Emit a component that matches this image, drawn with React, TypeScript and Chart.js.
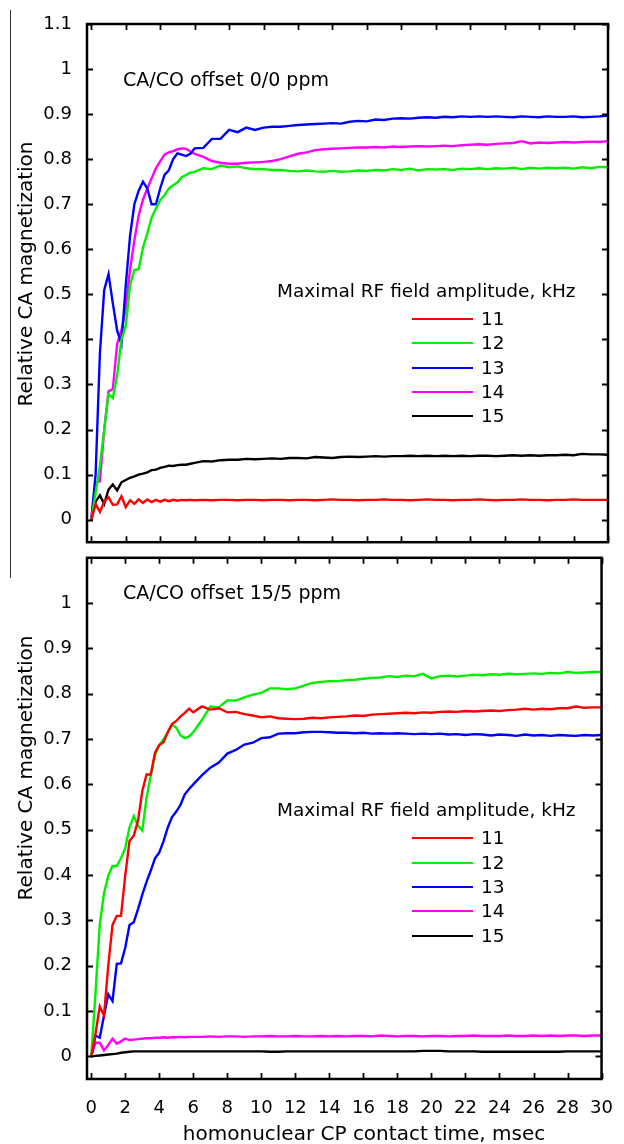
import React, { useEffect, useRef } from 'react';
import { Chart, registerables } from 'chart.js';

Chart.register(...registerables);

// ---------- data ----------
const contactTimeMs = [
  0, 0.25, 0.5, 0.75, 1, 1.25, 1.5, 1.75, 2, 2.25, 2.5, 2.75, 3, 3.25, 3.5, 3.75, 4, 4.25, 4.5, 4.75, 5, 5.25, 5.5, 5.75, 6,
  6.5, 7, 7.5, 8, 8.5, 9, 9.5, 10, 10.5, 11, 11.5, 12, 12.5, 13, 13.5, 14, 14.5, 15, 15.5, 16, 16.5, 17, 17.5, 18,
  18.5, 19, 19.5, 20, 20.5, 21, 21.5, 22, 22.5, 23, 23.5, 24, 24.5, 25, 25.5, 26, 26.5, 27, 27.5, 28, 28.5, 29, 29.5, 30,
];

const fieldAmplitudesKHz = ['11', '12', '13', '14', '15'];

// Panel 1: CA/CO offset 0/0 ppm
const offset00_11 = [
  0, 0.035, 0.017, 0.04, 0.05, 0.033, 0.034, 0.052, 0.028, 0.043, 0.035, 0.045, 0.037, 0.045, 0.039, 0.044, 0.04, 0.044, 0.041, 0.044, 0.042, 0.044, 0.043, 0.044, 0.043,
  0.044, 0.043, 0.044, 0.044, 0.043, 0.044, 0.044, 0.043, 0.044, 0.044, 0.043, 0.044, 0.044, 0.043, 0.044, 0.045, 0.044, 0.044, 0.043, 0.044, 0.044, 0.045, 0.044, 0.044,
  0.043, 0.044, 0.045, 0.044, 0.044, 0.043, 0.044, 0.044, 0.045, 0.044, 0.043, 0.044, 0.044, 0.045, 0.044, 0.044, 0.043, 0.044, 0.044, 0.045, 0.044, 0.044, 0.044, 0.044,
];
const offset00_12 = [
  0, 0.06, 0.12, 0.2, 0.278, 0.27, 0.32, 0.4, 0.43, 0.52, 0.554, 0.556, 0.604, 0.635, 0.67, 0.69, 0.709, 0.72, 0.735, 0.742, 0.748, 0.76, 0.765, 0.77, 0.772,
  0.78, 0.778, 0.786, 0.782, 0.784, 0.78, 0.778, 0.778, 0.776, 0.776, 0.774, 0.773, 0.775, 0.773, 0.772, 0.774, 0.772, 0.773, 0.775, 0.774, 0.776, 0.775, 0.778, 0.776,
  0.779, 0.775, 0.778, 0.777, 0.778, 0.776, 0.779, 0.778, 0.78, 0.778, 0.78, 0.779, 0.781, 0.778, 0.781, 0.779, 0.781, 0.78, 0.781, 0.779, 0.782, 0.78, 0.783, 0.782,
];
const offset00_13 = [
  0, 0.1, 0.37, 0.51, 0.545, 0.48, 0.42, 0.39, 0.52, 0.63, 0.7, 0.73, 0.75, 0.735, 0.7, 0.7, 0.735, 0.765, 0.775, 0.8, 0.813, 0.81, 0.807, 0.812, 0.824,
  0.825, 0.845, 0.845, 0.865, 0.86, 0.87, 0.865, 0.87, 0.872, 0.872, 0.874, 0.876, 0.877, 0.878, 0.879, 0.88, 0.879, 0.883, 0.885, 0.884, 0.888, 0.887, 0.89, 0.891,
  0.89, 0.892, 0.893, 0.892, 0.894, 0.893, 0.895, 0.894, 0.895, 0.894, 0.895, 0.894, 0.893, 0.895, 0.894, 0.893, 0.895, 0.894, 0.894, 0.895, 0.893, 0.894, 0.895, 0.897,
];
const offset00_14 = [
  0, 0.083, 0.085, 0.2, 0.285, 0.29, 0.39, 0.42, 0.47, 0.555, 0.62, 0.675, 0.71, 0.735, 0.757, 0.78, 0.795, 0.81, 0.815, 0.818, 0.822, 0.824, 0.823, 0.817, 0.812,
  0.805, 0.796, 0.792, 0.79, 0.79, 0.792, 0.793, 0.794, 0.796, 0.8, 0.806, 0.812, 0.815, 0.82, 0.822, 0.823, 0.824, 0.825, 0.826, 0.826, 0.827, 0.826, 0.828, 0.827,
  0.828, 0.829, 0.828, 0.829, 0.83, 0.829, 0.831, 0.832, 0.833, 0.832, 0.834, 0.835, 0.836, 0.84, 0.835, 0.837, 0.836, 0.837, 0.838, 0.837, 0.838, 0.839, 0.838, 0.84,
];
const offset00_15 = [
  0, 0.04, 0.054, 0.035, 0.067, 0.078, 0.065, 0.083, 0.088, 0.093, 0.096, 0.1, 0.102, 0.105, 0.11, 0.111, 0.115, 0.117, 0.12, 0.119, 0.121, 0.122, 0.122, 0.124, 0.126,
  0.13, 0.129, 0.132, 0.133, 0.133, 0.135, 0.134, 0.135, 0.136, 0.135, 0.137, 0.137, 0.136, 0.139, 0.138, 0.137, 0.139, 0.14, 0.139, 0.14, 0.141, 0.14, 0.141, 0.141,
  0.142, 0.141, 0.142, 0.141, 0.142, 0.141, 0.142, 0.141, 0.142, 0.142, 0.141, 0.142, 0.143, 0.142, 0.143, 0.142, 0.143, 0.143, 0.144, 0.143, 0.146, 0.145, 0.145, 0.144,
];

// Panel 2: CA/CO offset 15/5 ppm
const offset155_11 = [
  0, 0.05, 0.11, 0.09, 0.2, 0.29, 0.31, 0.31, 0.4, 0.475, 0.487, 0.52, 0.585, 0.622, 0.622, 0.67, 0.687, 0.693, 0.715, 0.733, 0.74, 0.75, 0.758, 0.767, 0.759,
  0.772, 0.765, 0.768, 0.759, 0.76, 0.755, 0.752, 0.748, 0.75, 0.746, 0.745, 0.744, 0.745, 0.747, 0.746, 0.748, 0.749, 0.75, 0.752, 0.751, 0.754, 0.755, 0.756, 0.757,
  0.758, 0.757, 0.759, 0.758, 0.76, 0.761, 0.76, 0.762, 0.761, 0.762, 0.763, 0.762, 0.764, 0.765, 0.767, 0.765, 0.767, 0.766, 0.768, 0.768, 0.772, 0.769, 0.77, 0.77,
];
const offset155_12 = [
  0, 0.14, 0.29, 0.36, 0.398, 0.42, 0.42, 0.437, 0.46, 0.505, 0.53, 0.509, 0.498, 0.57, 0.62, 0.665, 0.687, 0.7, 0.715, 0.732, 0.725, 0.708, 0.702, 0.706, 0.715,
  0.742, 0.772, 0.77, 0.785, 0.785, 0.792, 0.798, 0.802, 0.812, 0.812, 0.81, 0.812, 0.818, 0.824, 0.826, 0.828, 0.828, 0.83, 0.831, 0.833, 0.835, 0.836, 0.839, 0.837,
  0.84, 0.839, 0.844, 0.834, 0.839, 0.84, 0.838, 0.84, 0.842, 0.841, 0.843, 0.842, 0.844, 0.843, 0.844, 0.845, 0.844, 0.846, 0.845, 0.848, 0.846, 0.847, 0.848, 0.848,
];
const offset155_13 = [
  0, 0.046, 0.041, 0.09, 0.137, 0.122, 0.204, 0.205, 0.24, 0.29, 0.296, 0.325, 0.357, 0.385, 0.41, 0.437, 0.45, 0.475, 0.505, 0.528, 0.54, 0.555, 0.578, 0.59, 0.6,
  0.62, 0.637, 0.648, 0.668, 0.676, 0.688, 0.692, 0.702, 0.704, 0.712, 0.713, 0.713, 0.715, 0.716, 0.716, 0.715, 0.714, 0.714, 0.713, 0.714, 0.712, 0.713, 0.712, 0.713,
  0.712, 0.711, 0.712, 0.711, 0.712, 0.71, 0.711, 0.709, 0.711, 0.71, 0.708, 0.71, 0.709, 0.707, 0.71, 0.708, 0.709, 0.707, 0.709, 0.708, 0.707, 0.709, 0.708, 0.709,
];
const offset155_14 = [
  0, 0.03, 0.03, 0.013, 0.025, 0.039, 0.028, 0.033, 0.039, 0.036, 0.037, 0.038, 0.039, 0.04, 0.04, 0.041, 0.041, 0.042, 0.041, 0.042, 0.042, 0.043, 0.042, 0.043, 0.043,
  0.043, 0.044, 0.043, 0.044, 0.044, 0.043, 0.044, 0.044, 0.045, 0.044, 0.044, 0.045, 0.044, 0.044, 0.045, 0.044, 0.045, 0.044, 0.045, 0.045, 0.044, 0.046, 0.045, 0.044,
  0.045, 0.045, 0.044, 0.045, 0.045, 0.044, 0.045, 0.045, 0.046, 0.045, 0.045, 0.045, 0.046, 0.045, 0.045, 0.046, 0.045, 0.046, 0.045, 0.046, 0.046, 0.045, 0.046, 0.046,
];
const offset155_15 = [
  0, 0.001, 0.002, 0.003, 0.004, 0.005, 0.006, 0.008, 0.009, 0.01, 0.011, 0.011, 0.011, 0.011, 0.011, 0.011, 0.011, 0.011, 0.011, 0.011, 0.011, 0.011, 0.011, 0.011, 0.011,
  0.011, 0.011, 0.011, 0.011, 0.011, 0.011, 0.011, 0.011, 0.01, 0.01, 0.011, 0.011, 0.011, 0.011, 0.011, 0.011, 0.011, 0.011, 0.011, 0.011, 0.011, 0.011, 0.011, 0.011,
  0.011, 0.011, 0.012, 0.012, 0.012, 0.011, 0.011, 0.011, 0.011, 0.01, 0.01, 0.01, 0.01, 0.01, 0.01, 0.01, 0.01, 0.01, 0.01, 0.011, 0.011, 0.011, 0.011, 0.011,
];

const yTicksUpper = [0, 0.1, 0.2, 0.3, 0.4, 0.5, 0.6, 0.7, 0.8, 0.9, 1, 1.1];
const yTicksLower = [0, 0.1, 0.2, 0.3, 0.4, 0.5, 0.6, 0.7, 0.8, 0.9, 1];
const xTicks = [0, 2, 4, 6, 8, 10, 12, 14, 16, 18, 20, 22, 24, 26, 28, 30];

const panelNotes = ['CA/CO offset 0/0 ppm', 'CA/CO offset 15/5 ppm'];
const legendTitle = 'Maximal RF field amplitude, kHz';
const yAxisTitle = 'Relative CA magnetization';
const xAxisTitle = 'homonuclear CP contact time, msec';

// ---------- styles ----------
const lineColors = ['#ff0000', '#00f000', '#0000ff', '#ff00ff', '#000000'];
const FONT = 'DejaVu Sans';

const decorPlugin = {
  id: 'decor',
  afterDraw(chart: any, _args: any, o: any) {
    const { ctx, chartArea: ca } = chart;
    const xs = chart.scales.x;
    const ys = chart.scales.y;
    const oy = o.offsetY;
    ctx.save();
    ctx.strokeStyle = '#000';
    ctx.lineWidth = 2.5;
    ctx.strokeRect(ca.left, ca.top, ca.right - ca.left, ca.bottom - ca.top);
    ctx.lineWidth = 1.8;
    ctx.beginPath();
    for (const v of xTicks) {
      const px = Math.round(xs.getPixelForValue(v)) + 0.5;
      ctx.moveTo(px, ca.top);
      ctx.lineTo(px, ca.top + 6);
      ctx.moveTo(px, ca.bottom);
      ctx.lineTo(px, ca.bottom - 6);
    }
    for (const v of o.yTicks) {
      const py = Math.round(ys.getPixelForValue(v)) + 0.5;
      ctx.moveTo(ca.left, py);
      ctx.lineTo(ca.left + 6, py);
      ctx.moveTo(ca.right, py);
      ctx.lineTo(ca.right - 6, py);
    }
    ctx.stroke();

    ctx.fillStyle = '#000';
    ctx.textAlign = 'left';
    ctx.textBaseline = 'alphabetic';
    ctx.font = `19px "${FONT}"`;
    ctx.fillText(o.note, 123, o.noteY - oy);

    ctx.font = `18.5px "${FONT}"`;
    ctx.fillText(legendTitle, 277, o.legendTitleY - oy);
    chart.data.datasets.forEach((ds: any, i: number) => {
      const y = o.legendRowY[i] - oy;
      ctx.strokeStyle = ds.borderColor;
      ctx.lineWidth = 2.2;
      ctx.beginPath();
      ctx.moveTo(412, y);
      ctx.lineTo(473, y);
      ctx.stroke();
      ctx.textBaseline = 'middle';
      ctx.fillText(ds.label, 481, y + 1);
    });

    ctx.font = `20px "${FONT}"`;
    ctx.save();
    ctx.translate(32, o.yTitleCenter - oy);
    ctx.rotate(-Math.PI / 2);
    ctx.textAlign = 'center';
    ctx.textBaseline = 'alphabetic';
    ctx.fillText(yAxisTitle, 0, 0);
    ctx.restore();

    if (o.showXTitle) {
      ctx.textAlign = 'center';
      ctx.textBaseline = 'alphabetic';
      ctx.fillText(xAxisTitle, 364, 1140 - oy);
    }
    ctx.restore();
  },
};

function buildConfig(series: number[][], yTicks: number[], lower: boolean, decor: any): any {
  return {
    type: 'line',
    data: {
      datasets: series.map((vals, i) => ({
        label: fieldAmplitudesKHz[i],
        data: contactTimeMs.map((t, k) => ({ x: t, y: vals[k] })),
        borderColor: lineColors[i],
        backgroundColor: lineColors[i],
        borderWidth: 2.4,
        pointRadius: 0,
        tension: 0,
        fill: false,
      })),
    },
    options: {
      responsive: false,
      animation: false,
      devicePixelRatio: 1,
      layout: { padding: { left: 0, right: 16, top: lower ? 11 : 24, bottom: lower ? 0 : 9 } },
      plugins: { legend: { display: false }, tooltip: { enabled: false }, decor },
      scales: {
        x: {
          type: 'linear',
          min: -0.25,
          max: 30,
          display: lower,
          grid: { display: false },
          border: { display: false },
          afterBuildTicks: (s: any) => {
            s.ticks = xTicks.map((v) => ({ value: v }));
          },
          afterFit: (s: any) => {
            if (lower) s.height = 65;
          },
          ticks: {
            autoSkip: false,
            maxRotation: 0,
            padding: 11,
            color: '#000',
            font: { family: FONT, size: 18 },
            callback: (v: any) => String(v),
          },
        },
        y: {
          type: 'linear',
          min: -0.05,
          max: 1.1,
          grid: { display: false },
          border: { display: false },
          afterBuildTicks: (s: any) => {
            s.ticks = yTicks.map((v) => ({ value: v }));
          },
          afterFit: (s: any) => {
            s.width = 87;
          },
          ticks: {
            autoSkip: false,
            padding: 7,
            color: '#000',
            font: { family: FONT, size: 18 },
            callback: (v: any) => String(v),
          },
        },
      },
    },
    plugins: [decorPlugin],
  };
}

export default function App() {
  const upperRef = useRef<HTMLCanvasElement>(null);
  const lowerRef = useRef<HTMLCanvasElement>(null);

  useEffect(() => {
    const upper = new Chart(
      upperRef.current as HTMLCanvasElement,
      buildConfig(
        [offset00_11, offset00_12, offset00_13, offset00_14, offset00_15],
        yTicksUpper,
        false,
        {
          offsetY: 0,
          yTicks: yTicksUpper,
          note: panelNotes[0],
          noteY: 86,
          legendTitleY: 297,
          legendRowY: [319, 343, 368, 392, 416],
          yTitleCenter: 274,
          showXTitle: false,
        }
      )
    );
    const lower = new Chart(
      lowerRef.current as HTMLCanvasElement,
      buildConfig(
        [offset155_11, offset155_12, offset155_13, offset155_14, offset155_15],
        yTicksLower,
        true,
        {
          offsetY: 540,
          yTicks: yTicksLower,
          note: panelNotes[1],
          noteY: 599,
          legendTitleY: 816,
          legendRowY: [838, 863, 887, 911, 936],
          yTitleCenter: 768,
          showXTitle: true,
        }
      )
    );
    return () => {
      upper.destroy();
      lower.destroy();
    };
  }, []);

  return (
    <div style={{ position: 'absolute', left: 0, top: 0, width: 624, height: 1144, background: '#fff', overflow: 'hidden' }}>
      <div style={{ position: 'absolute', left: 10, top: 10, width: 1, height: 568, background: '#333' }} />
      <canvas ref={upperRef} width={624} height={560} style={{ position: 'absolute', left: 0, top: 0, width: 624, height: 560 }} />
      <canvas ref={lowerRef} width={624} height={604} style={{ position: 'absolute', left: 0, top: 540, width: 624, height: 604 }} />
    </div>
  );
}
